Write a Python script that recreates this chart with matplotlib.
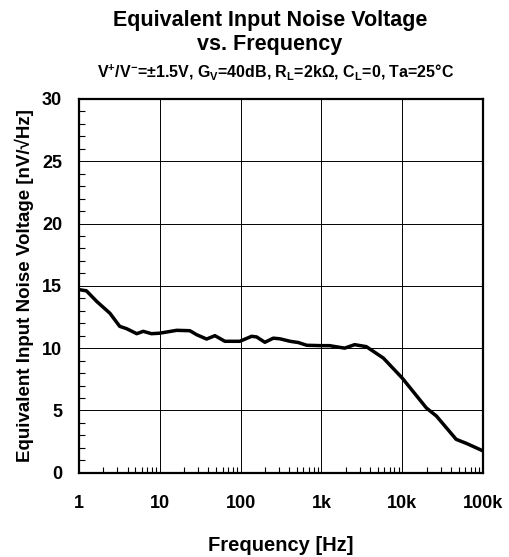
import matplotlib
matplotlib.use("Agg")
import matplotlib.pyplot as plt
import numpy as np
from matplotlib.ticker import LogLocator, NullFormatter, MultipleLocator

plt.rcParams['font.family'] = ['Liberation Sans', 'DejaVu Sans']
plt.rcParams['font.weight'] = 'bold'
plt.rcParams['mathtext.fontset'] = 'custom'
plt.rcParams['mathtext.rm'] = 'Liberation Sans:bold'
plt.rcParams['mathtext.default'] = 'rm'

# noise curve
freq = [1, 1.24, 1.66, 2.42, 3.2, 3.9, 5.2, 6.25, 7.9, 10, 16.2, 23.6, 28.6,
        38, 48.2, 64, 98, 137, 158, 200, 254, 307, 410, 519, 660, 1000, 1260,
        1940, 2580, 3600, 5850, 10000, 19900, 26500, 46500, 62000, 100000]
noise = [14.7, 14.6, 13.75, 12.8, 11.75, 11.56, 11.16, 11.35, 11.16, 11.2,
         11.43, 11.4, 11.08, 10.73, 11.0, 10.55, 10.55, 10.95, 10.9, 10.47,
         10.8, 10.75, 10.55, 10.45, 10.23, 10.2, 10.2, 10.0, 10.28, 10.12,
         9.2, 7.6, 5.2, 4.55, 2.68, 2.36, 1.75]

xticks = [1, 10, 100, 1000, 10000, 100000]
xlabels = ['1', '10', '100', '1k', '10k', '100k']
yticks = [0, 5, 10, 15, 20, 25, 30]

fig = plt.figure(figsize=(5.09, 5.57), dpi=100)
ax = fig.add_axes([0.155, 0.1513, 0.794, 0.671])

ax.plot(freq, noise, color='black', linewidth=2.5, solid_joinstyle='round')

ax.set_xscale('log')
ax.set_xlim(1, 100000)
ax.set_ylim(0, 30)
ax.set_xticks(xticks)
ax.set_xticklabels(xlabels)
ax.set_yticks(yticks)
ax.xaxis.set_minor_locator(LogLocator(base=10, subs=np.arange(2, 10)))
ax.xaxis.set_minor_formatter(NullFormatter())
ax.yaxis.set_minor_locator(MultipleLocator(1))

ax.grid(True, which='major', color='black', linewidth=0.7)
ax.tick_params(which='major', length=0, labelsize=13, pad=12)
ax.tick_params(axis='x', which='major', pad=16)
ax.tick_params(which='minor', direction='in', length=4, width=0.8,
               top=False, right=False)
for s in ax.spines.values():
    s.set_linewidth(1.6)

for lab in ax.get_xticklabels() + ax.get_yticklabels():
    lab.set_fontweight('bold')

ax.set_xlabel('Frequency [Hz]', fontsize=14.5, fontweight='bold', labelpad=17)
ax.set_ylabel('Equivalent Input Noise Voltage [nV/\u221aHz]', fontsize=13.5,
              fontweight='bold', labelpad=6)

fig.text(0.53, 0.941, 'Equivalent Input Noise Voltage\nvs. Frequency',
         ha='center', va='center', fontsize=15.5, fontweight='bold',
         linespacing=1.2)
fig.text(0.541, 0.870,
         r'V$^{+}$/V$^{-}$=±1.5V, G$_{V}$=40dB, R$_{L}$=2k$\Omega$, C$_{L}$=0, Ta=25°C',
         ha='center', va='center', fontsize=11.5, fontweight='bold')

fig.savefig('out.png', dpi=100)
